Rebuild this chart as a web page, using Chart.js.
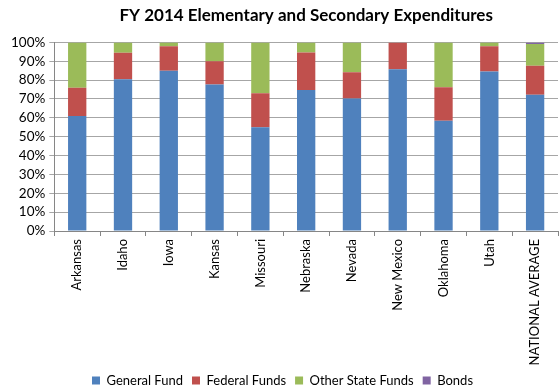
<!DOCTYPE html>
<html>
<head>
<meta charset="utf-8">
<script src="https://cdn.jsdelivr.net/npm/chart.js@4.4.1/dist/chart.umd.min.js"></script>
<style>
  html, body { margin: 0; padding: 0; background: #fff; }
  #wrap { width: 560px; height: 392px; }
</style>
</head>
<body>
<div id="wrap"><canvas id="grafico"></canvas></div>
<script>
// estados y porcentajes de cada fuente de fondos
const estados = ['Arkansas', 'Idaho', 'Iowa', 'Kansas', 'Missouri', 'Nebraska', 'Nevada', 'New Mexico', 'Oklahoma', 'Utah', 'NATIONAL AVERAGE']
const fondoGeneral = [61, 80.5, 85, 77.7, 55, 74.8, 70.2, 85.8, 58.5, 84.6, 72.3]
const fondosFederales = [15, 14, 12.9, 12.3, 18, 19.9, 14, 14.2, 17.7, 13.4, 15.3]
const otrosEstatales = [24, 5.5, 2.1, 10, 27, 5.3, 15.8, 0, 23.8, 2, 11.5]
const bonos = [0, 0, 0, 0, 0, 0, 0, 0, 0, 0, 0.9]
const ticksY = [0, 10, 20, 30, 40, 50, 60, 70, 80, 90, 100]

const fuente = "Lato, 'Open Sans', sans-serif"

const valores = {
	labels: estados,
	datasets: [
		{ label: 'General Fund', data: fondoGeneral, backgroundColor: '#4F81BD' },
		{ label: 'Federal Funds', data: fondosFederales, backgroundColor: '#C0504D' },
		{ label: 'Other State Funds', data: otrosEstatales, backgroundColor: '#9BBB59' },
		{ label: 'Bonds', data: bonos, backgroundColor: '#8064A2' }
	]
}

const options = {
	responsive: true,
	maintainAspectRatio: false,
	animation: false,
	// margen inferior negativo para bajar un poco la leyenda
	layout: { padding: { left: 7, right: 2, top: 5, bottom: -5 } },
	datasets: { bar: { categoryPercentage: 0.4, barPercentage: 1 } },
	plugins: {
		title: {
			display: true,
			fullSize: false, // centrado sobre el área del gráfico
			text: 'FY 2014 Elementary and Secondary Expenditures',
			color: '#000',
			font: { family: fuente, size: 17, weight: 'bold' },
			padding: { top: 0, bottom: 17 }
		},
		legend: {
			position: 'bottom',
			labels: {
				color: '#000',
				boxWidth: 8,
				boxHeight: 8,
				padding: 9,
				font: { family: fuente, size: 13 }
			}
		},
		tooltip: { enabled: false }
	},
	scales: {
		x: {
			stacked: true,
			grid: { display: true, drawOnChartArea: false, offset: true, color: '#868686', tickLength: 5 },
			border: { color: '#868686' },
			ticks: {
				color: '#000',
				maxRotation: 90,
				minRotation: 90,
				autoSkip: false,
				padding: 3,
				font: { family: fuente, size: 13 }
			},
			// alto fijo del eje para dejar lugar a las etiquetas verticales
			afterFit: eje => { eje.height = 134 }
		},
		y: {
			stacked: true,
			min: 0,
			max: 100,
			afterBuildTicks: eje => { eje.ticks = ticksY.map(v => ({ value: v })) },
			grid: { color: '#A6A6A6', tickLength: 5 },
			border: { color: '#868686' },
			ticks: {
				color: '#000',
				padding: 4,
				autoSkip: false,
				font: { family: fuente, size: 13.5 },
				callback: v => v + '%'
			}
		}
	}
}

new Chart(document.querySelector('#grafico'), { type: 'bar', data: valores, options: options })
</script>
</body>
</html>
